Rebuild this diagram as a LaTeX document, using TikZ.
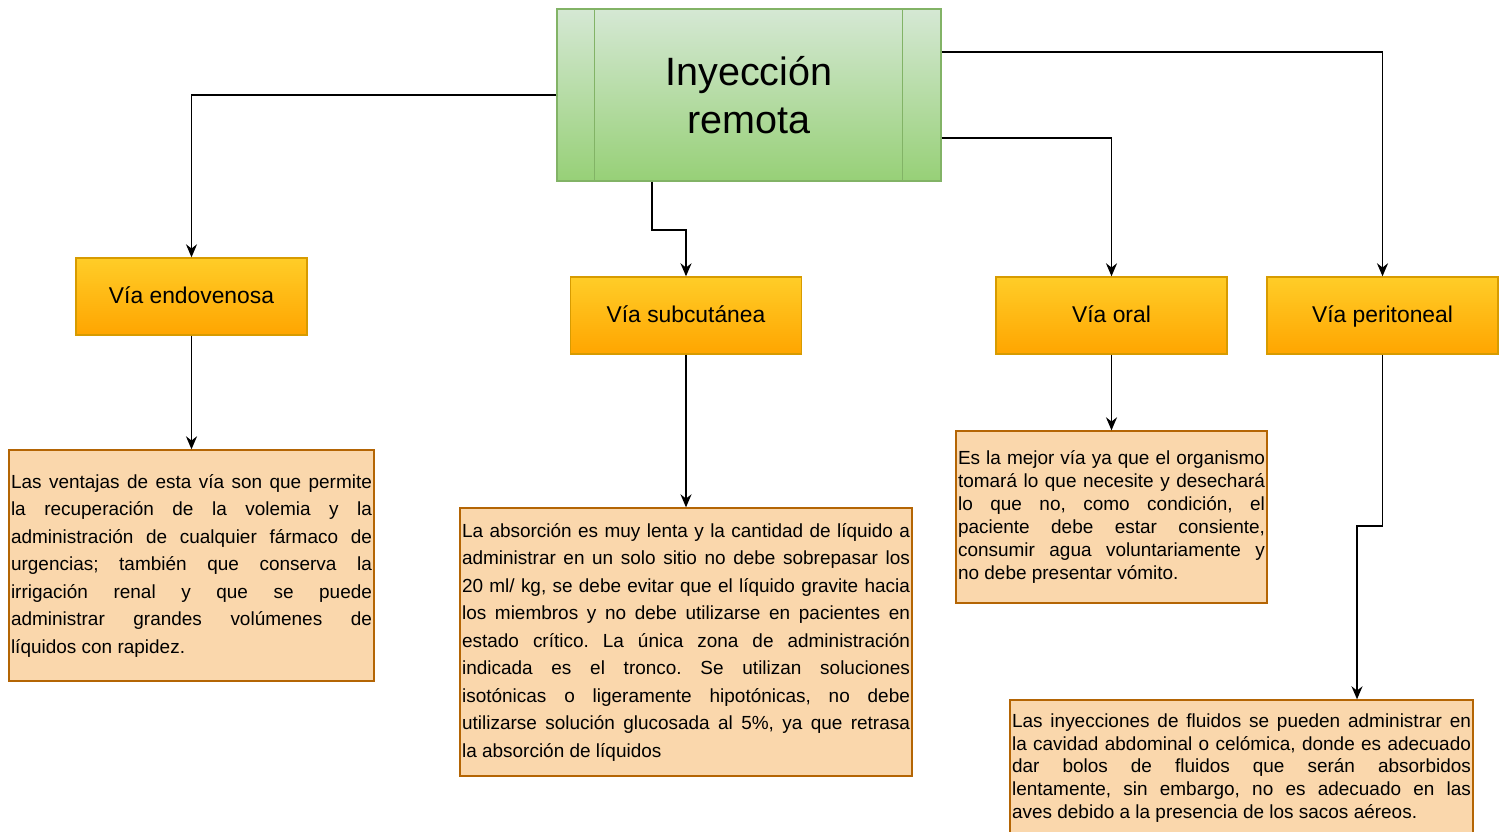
\documentclass[tikz,border=0pt]{standalone}
\usepackage{fontspec}
\setmainfont{Liberation Sans}
\usetikzlibrary{arrows.meta}

\definecolor{greentop}{HTML}{D5E8D4}
\definecolor{greenbottom}{HTML}{97D077}
\definecolor{greenline}{HTML}{82B366}
\definecolor{orangetop}{HTML}{FFCD28}
\definecolor{orangebottom}{HTML}{FFA500}
\definecolor{orangeline}{HTML}{D79B00}
\definecolor{notefill}{HTML}{FAD7AC}
\definecolor{noteline}{HTML}{B46504}

\newcommand{\notebig}{\fontsize{10.8}{15.65}\selectfont}
\newcommand{\notesmall}{\fontsize{10.8}{13.04}\selectfont}
\tolerance=10000
\hyphenpenalty=10000
\frenchspacing

\begin{document}
\begin{tikzpicture}[x=0.02cm, y=-0.02cm,
    topic/.style={draw=greenline, line width=0.8pt, top color=greentop, bottom color=greenbottom,
        minimum width=7.68cm, minimum height=3.44cm, align=center, font=\fontsize{22.5}{27.2}\selectfont},
    via/.style={draw=orangeline, line width=0.8pt, top color=orangetop, bottom color=orangebottom,
        minimum width=4.62cm, minimum height=1.54cm, text height=9.4pt, text depth=2pt,
        font=\fontsize{13}{15}\selectfont},
    note/.style={draw=noteline, line width=0.8pt, fill=notefill, inner xsep=0.04cm, align=justify},
    arr/.style={-{Stealth[length=0.26cm, width=0.22cm]}, line width=0.9pt}]

    \useasboundingbox (0,0) rectangle (1503,831);

    % Nodes
    \node[topic] (main) at (749,95) {Inyección\\remota};
    \draw[greenline, line width=0.8pt] ([xshift=0.76cm]main.north west) -- ([xshift=0.76cm]main.south west);
    \draw[greenline, line width=0.8pt] ([xshift=-0.78cm]main.north east) -- ([xshift=-0.78cm]main.south east);

    \node[via] (endo) at (191.5,296.5) {Vía endovenosa};
    \node[via] (subc) at (686,315.5) {Vía subcutánea};
    \node[via] (oral) at (1111.5,315.5) {Vía oral};
    \node[via] (peri) at (1382.5,315.5) {Vía peritoneal};

    % Notes
    \node[note, text width=7.22cm, minimum width=7.3cm, minimum height=4.62cm, font=\notebig] (endonote) at (191.5,565.5)
        {Las ventajas de esta vía son que permite\linebreak
        la recuperación de la volemia y la\linebreak
        administración de cualquier fármaco de\linebreak
        urgencias; también que conserva la\linebreak
        irrigación renal y que se puede\linebreak
        administrar grandes volúmenes de\linebreak
        líquidos con rapidez.};
    \node[note, text width=8.96cm, minimum width=9.04cm, minimum height=5.36cm, font=\notebig] (subcnote) at (686,642)
        {La absorción es muy lenta y la cantidad de líquido a\linebreak
        administrar en un solo sitio no debe sobrepasar los\linebreak
        20 ml/ kg, se debe evitar que el líquido gravite hacia\linebreak
        los miembros y no debe utilizarse en pacientes en\linebreak
        estado crítico. La única zona de administración\linebreak
        indicada es el tronco. Se utilizan soluciones\linebreak
        isotónicas o ligeramente hipotónicas, no debe\linebreak
        utilizarse solución glucosada al 5\%, ya que retrasa\linebreak
        la absorción de líquidos};
    \node[note, text width=6.14cm, minimum width=6.22cm, minimum height=3.44cm, font=\notesmall] (oralnote) at (1111.5,517)
        {Es la mejor vía ya que el organismo\linebreak
        tomará lo que necesite y desechará\linebreak
        lo que no, como condición, el\linebreak
        paciente debe estar consiente,\linebreak
        consumir agua voluntariamente y\linebreak
        no debe presentar vómito.};
    \node[note, text width=9.18cm, minimum width=9.26cm, minimum height=2.72cm, font=\notesmall] (perinote) at (1241.5,768)
        {Las inyecciones de fluidos se pueden administrar en\linebreak
        la cavidad abdominal o celómica, donde es adecuado\linebreak
        dar bolos de fluidos que serán absorbidos\linebreak
        lentamente, sin embargo, no es adecuado en las\linebreak
        aves debido a la presencia de los sacos aéreos.};

    % Arrows
    \coordinate (subcbend) at (652,230);
    \coordinate (peribend) at (1357,526);
    \draw[arr] (main.west) -| (endo.north);
    \draw[arr] (subcbend |- main.south) -- (subcbend) -| (subc.north);
    \draw[arr] ([yshift=-0.86cm]main.east) -| (oral.north);
    \draw[arr] ([yshift=0.86cm]main.east) -| (peri.north);

    \draw[arr] (endo.south) -- (endonote.north);
    \draw[arr] (subc.south) -- (subcnote.north);
    \draw[arr] (oral.south) -- (oralnote.north);
    \draw[arr] (peri.south) |- (peribend) -- (peribend |- perinote.north);

\end{tikzpicture}
\end{document}
